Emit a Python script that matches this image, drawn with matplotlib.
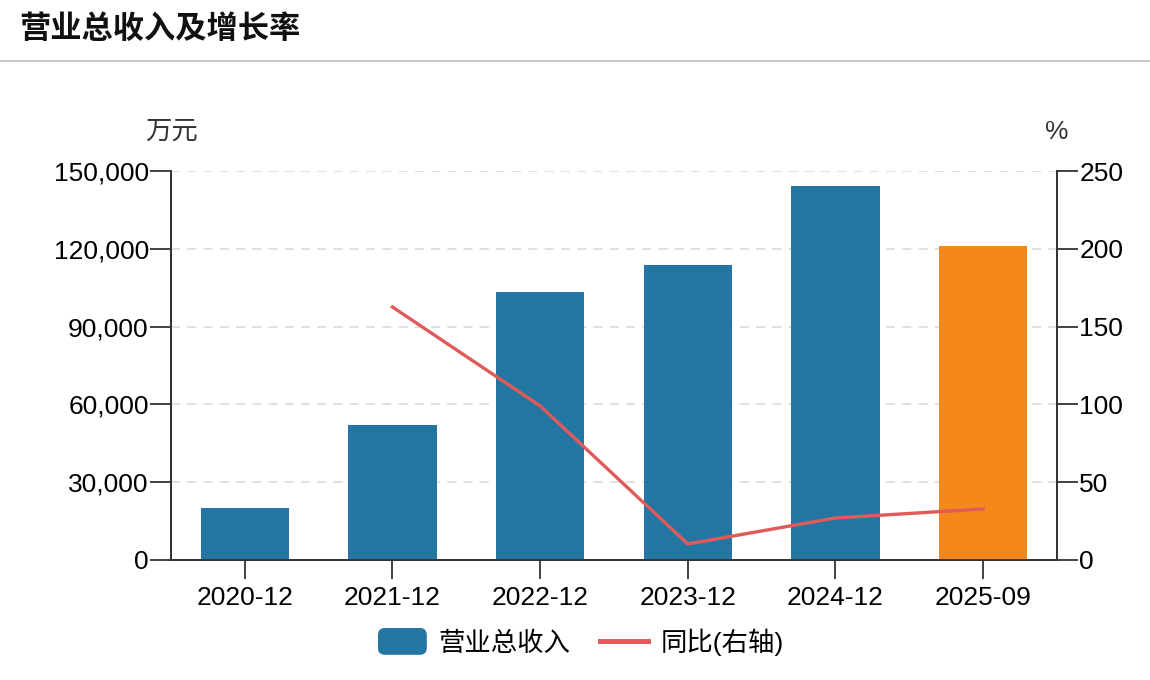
import numpy as np
import matplotlib
matplotlib.use('Agg')
import matplotlib.pyplot as plt
from matplotlib.lines import Line2D
from matplotlib.patches import FancyBboxPatch
from matplotlib.legend_handler import HandlerPatch

plt.rcParams['font.family'] = ['Liberation Sans', 'Noto Sans CJK SC', 'DejaVu Sans']

# ---------------------------------------------------------------- data
periods = ['2020-12', '2021-12', '2022-12', '2023-12', '2024-12', '2025-09']
revenue = [20050, 52050, 103300, 113800, 144200, 121100]   # 万元
yoy = [np.nan, 162.6, 99.0, 10.3, 27.0, 32.8]               # %

BLUE = '#2376a1'
ORANGE = '#f5881a'
RED = '#e05a5a'
INK = '#333333'
FS = 19

fig = plt.figure(figsize=(11.5, 6.8), dpi=100)
ax = fig.add_axes([0.1487, 0.1765, 0.7704, 0.572])
ax2 = ax.twinx()

x = np.arange(len(periods))
cols = [BLUE] * (len(periods) - 1) + [ORANGE]
ax.bar(x, revenue, width=0.6, color=cols, zorder=3)
ax2.plot(x, yoy, color=RED, lw=2.4, zorder=4)

ax.set_xlim(-0.5, len(periods) - 0.5)
ax.set_ylim(0, 150000)
ax2.set_ylim(0, 250)
ax.set_yticks(np.arange(0, 150001, 30000))
ax.set_yticklabels(['{:,}'.format(v) for v in range(0, 150001, 30000)])
ax2.set_yticks(np.arange(0, 251, 50))
ax.set_xticks(x)
ax.set_xticklabels(periods)

ax.grid(axis='y', color='#dddddd', ls=(0, (5, 4)), lw=1.3, zorder=0)
ax.set_axisbelow(True)

for a in (ax, ax2):
    a.spines['top'].set_visible(False)
    for s in a.spines.values():
        s.set_color(INK)
        s.set_linewidth(1.3)
    a.tick_params(colors='black', labelsize=FS, length=15, width=1.3,
                  color=INK, pad=1)
ax.tick_params(axis='x', length=14, pad=5)
ax2.set_zorder(ax.get_zorder() + 1)
ax2.patch.set_visible(False)

ax.text(0, 1.07, '万元', transform=ax.transAxes, ha='center', va='bottom',
        fontsize=FS, color=INK)
ax2.text(1, 1.07, '%', transform=ax2.transAxes, ha='center', va='bottom',
         fontsize=FS, color=INK)

# title and separator
fig.text(0.017, 0.956, '营业总收入及增长率', fontsize=22.5, fontweight='bold',
         ha='left', va='center', color='#111111')
fig.add_artist(Line2D([0, 1], [0.91, 0.91], color='#c8c8c8', lw=1.5,
                      transform=fig.transFigure))


class RoundPatch(HandlerPatch):
    def create_artists(self, legend, orig, xd, yd, w, h, fs, trans):
        p = FancyBboxPatch((xd, yd - 3), w, h + 6,
                           boxstyle='round,pad=0,rounding_size=5',
                           fc=BLUE, ec='none', transform=trans)
        return [p]


handles = [FancyBboxPatch((0, 0), 1, 1, fc=BLUE),
           Line2D([], [], color=RED, lw=3.6)]
fig.legend(handles, ['营业总收入', '同比(右轴)'], loc='center',
           bbox_to_anchor=(0.505, 0.056), ncol=2, frameon=False,
           fontsize=FS, handlelength=1.85, handletextpad=0.45,
           columnspacing=1.1, handler_map={FancyBboxPatch: RoundPatch()})

fig.savefig('out.png', dpi=100)
